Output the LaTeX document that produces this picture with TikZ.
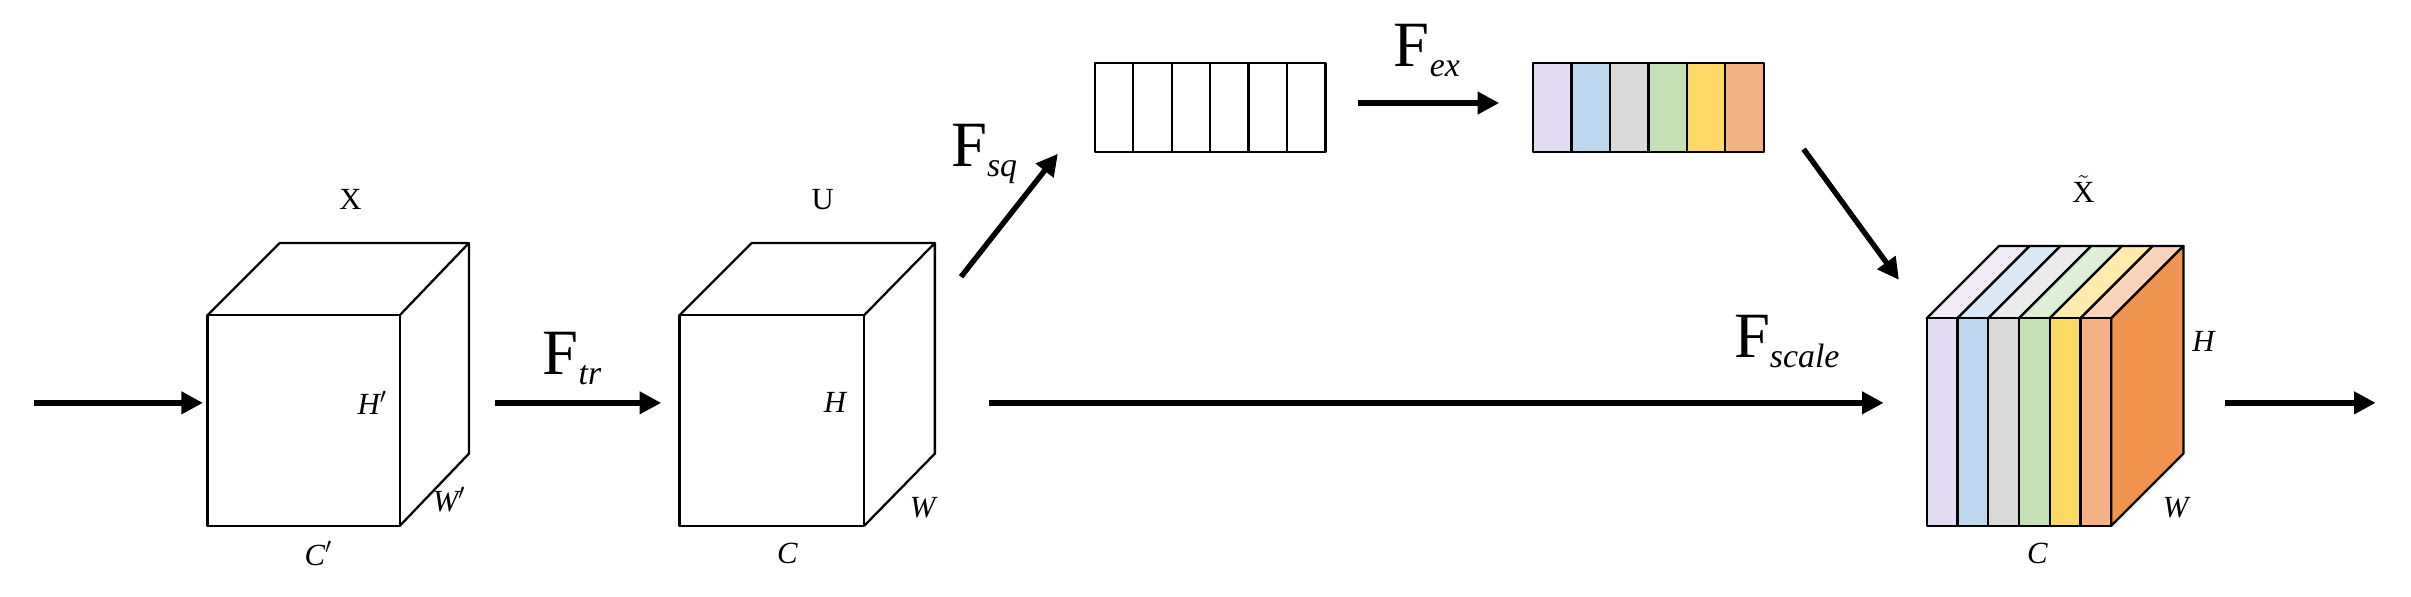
\documentclass[tikz,border=0pt]{standalone}
\usepackage{fontspec}
\setmainfont{Liberation Serif}
\usetikzlibrary{arrows.meta}
\definecolor{c1}{HTML}{E3DBF1}\definecolor{c2}{HTML}{BDD7EE}\definecolor{c3}{HTML}{D9D9D9}
\definecolor{c4}{HTML}{C5E0B4}\definecolor{c5}{HTML}{FFD966}\definecolor{c6}{HTML}{F4B183}
\definecolor{cside}{HTML}{F0944F}
\begin{document}
\begin{tikzpicture}[x=1pt,y=-1pt,
  edge/.style={line width=1.5pt,line join=round},
  arr/.style={line width=3.5pt,-{Triangle[length=14pt,width=14pt]}},
  lab/.style={font=\fontsize{20}{20}\selectfont},
  ilab/.style={font=\fontsize{20}{20}\selectfont\itshape},
  flab/.style={font=\fontsize{42}{42}\selectfont}]
\useasboundingbox (0,0) rectangle (1568,388);
% cube X
\draw[edge,fill=white] (135,205) rectangle (260,342);
\draw[edge] (135,205) -- (182,158) -- (305,158) -- (305,295) -- (260,342) (260,205) -- (305,158);
\node[lab] (lx) at (228,130) {X};
\node[ilab] (hx) at (242,262) {H$'$};
\node[ilab] (wx) at (292,325) {W$'$};
\node[ilab] (cx) at (207,360) {C$'$};
\coordinate (xin) at (132,262); \coordinate (xout) at (322,262);
% cube U
\draw[edge,fill=white] (442,205) rectangle (562,342);
\draw[edge] (442,205) -- (489,158) -- (608,158) -- (608,295) -- (562,342) (562,205) -- (608,158);
\node[lab] (lu) at (535,130) {U};
\node[ilab] (hu) at (543,262) {H};
\node[ilab] (wu) at (600,330) {W};
\node[ilab] (cu) at (512,360) {C};
\coordinate (uin) at (430,262); \coordinate (uout) at (643,262); \coordinate (usq) at (625,180);
% top boxes
\foreach \i in {0,...,5} \draw[edge] (712+25*\i,41) rectangle ++(25,58);
\coordinate (sqin) at (688,100); \coordinate (sqout) at (883,67);
\foreach \c [count=\i from 0] in {c1,c2,c3,c4,c5,c6} \draw[edge,fill=\c] (997+25*\i,41) rectangle ++(25,58);
\coordinate (exin) at (975,67); \coordinate (exout) at (1173,97);
% output cube
\foreach \c [count=\i from 0] in {c1,c2,c3,c4,c5,c6}{
  \draw[edge,fill=\c!55] (1253+20*\i,207) -- (1300+20*\i,160) -- (1320+20*\i,160) -- (1273+20*\i,207) -- cycle;
  \draw[edge,fill=\c] (1253+20*\i,207) rectangle ++(20,135);}
\draw[edge,fill=cside] (1373,207) -- (1420,160) -- (1420,295) -- (1373,342) -- cycle;
\node[lab] (lxt) at (1355,123) {$\tilde{\mathrm{X}}$};
\node[ilab] (hxt) at (1433,222) {H};
\node[ilab] (wxt) at (1415,330) {W};
\node[ilab] (cxt) at (1325,360) {C};
\coordinate (xtin) at (1225,262); \coordinate (xtex) at (1235,182); \coordinate (xtout) at (1447,262);
\coordinate (start) at (22,262); \coordinate (end) at (1545,262);
% arrows
\draw[arr] (start) -- (xin);
\draw[arr] (xout) -- (uin);
\draw[arr] (uout) -- (xtin);
\draw[arr] (usq) -- (sqin);
\draw[arr] (sqout) -- (exin);
\draw[arr] (exout) -- (xtex);
\draw[arr] (xtout) -- (end);
\node[flab] (ftr) at (372,233) {F\textit{\fontsize{22}{22}\selectfont\raisebox{-0.3em}{tr}}};
\node[flab] (fsq) at (640,100) {F\textit{\fontsize{22}{22}\selectfont\raisebox{-0.3em}{sq}}};
\node[flab] (fex) at (928,33) {F\textit{\fontsize{22}{22}\selectfont\raisebox{-0.3em}{ex}}};
\node[flab] (fsc) at (1162,222) {F\textit{\fontsize{22}{22}\selectfont\raisebox{-0.3em}{scale}}};
\end{tikzpicture}
\end{document}
